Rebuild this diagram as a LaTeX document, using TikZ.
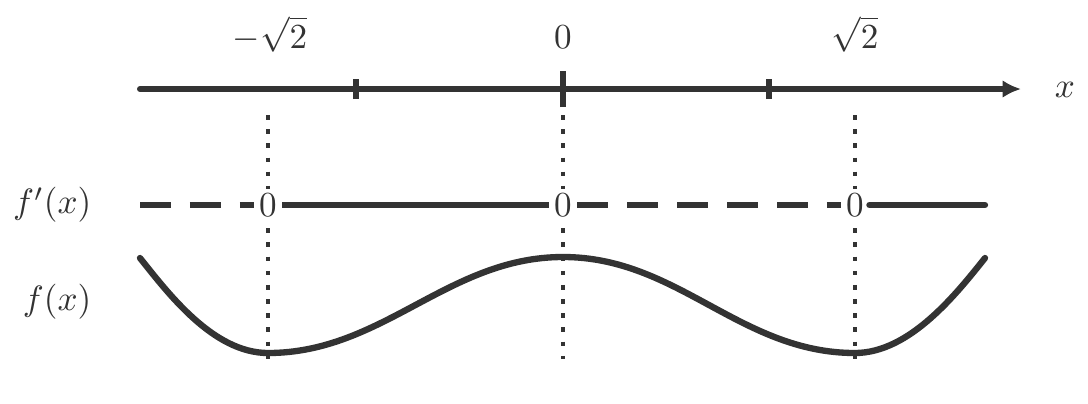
\documentclass[tikz,border=0pt]{standalone}
\usepackage{amsmath, amssymb}
\usetikzlibrary{arrows.meta}
\definecolor{ink}{RGB}{51,51,51}
\tikzset{axis/.style={draw=ink, line width=1.7pt, line cap=round, -{Latex[length=5.2pt,width=5pt]}}}
\tikzset{tick/.style={draw=ink, line width=1.6pt}}
\tikzset{guide/.style={draw=ink, line width=1.3pt, dash pattern=on 1.3pt off 2.73pt}}
\tikzset{lbl/.style={text=ink, inner sep=0pt}}
\tikzset{zero/.style={fill=white, text=ink, inner sep=1.4pt}}
\tikzset{negline/.style={draw=ink, line width=1.8pt, dash pattern=on 8.8pt off 5.4pt}}
\tikzset{posline/.style={draw=ink, line width=1.8pt}}
\tikzset{graph/.style={draw=ink, line width=1.8pt, line cap=round}}

\begin{document}
\begin{tikzpicture}
        \path[use as bounding box, fill=white] (0,0) rectangle (10.88,4.03);

        \coordinate (xl) at (1.40,3.14);
        \coordinate (xr) at (10.21,3.14);
        \draw[axis] (xl) -- (xr);
        \foreach \t/\h in {3.56/0.10, 5.63/0.18, 7.69/0.10}
          \draw[tick] (\t,3.14-\h) -- (\t,3.14+\h);

        \node[lbl, anchor=base] (lm)   at (2.70,3.55) {$-\sqrt{2}$};
        \node[lbl, anchor=base] (lz)   at (5.63,3.55) {$0$};
        \node[lbl, anchor=base] (lp)   at (8.55,3.55) {$\sqrt{2}$};
        \node[lbl, anchor=base] (xlbl) at (10.65,3.06) {$x$};

        \foreach \n/\p in {1/2.68, 2/5.63, 3/8.55}{
          \coordinate (t\n) at (\p,2.88);
          \coordinate (b\n) at (\p,0.44);
          \path[guide] (t\n) -- (b\n);
        }

        \node[lbl, anchor=east] (fplbl) at (0.92,1.98) {$f'(x)$};
        \node[lbl, anchor=east] (flbl)  at (0.92,1.01) {$f(x)$};

        \node[zero] (z1) at (2.68,1.98) {$0$};
        \node[zero] (z2) at (5.63,1.98) {$0$};
        \node[zero] (z3) at (8.55,1.98) {$0$};
        \coordinate (rs) at (1.40,1.98);
        \coordinate (re) at (9.85,1.98);

        \path[negline] (rs) -- (z1);
        \path[posline] (z1) -- (z2);
        \path[negline] (z2) -- (z3);
        \path[posline, line cap=round] (z3) -- (re);

        \coordinate (c0) at (1.40,1.45);
        \coordinate (c1) at (2.68,0.50);
        \coordinate (c2) at (5.63,1.46);
        \coordinate (c3) at (8.55,0.50);
        \coordinate (c4) at (9.85,1.45);
        \path[graph] (c0) .. controls (1.68,1.10) and (2.13,0.50) .. (c1)
                          .. controls (3.83,0.50) and (4.48,1.46) .. (c2)
                          .. controls (6.78,1.46) and (7.40,0.50) .. (c3)
                          .. controls (9.10,0.50) and (9.57,1.10) .. (c4);
      \end{tikzpicture}
\end{document}
